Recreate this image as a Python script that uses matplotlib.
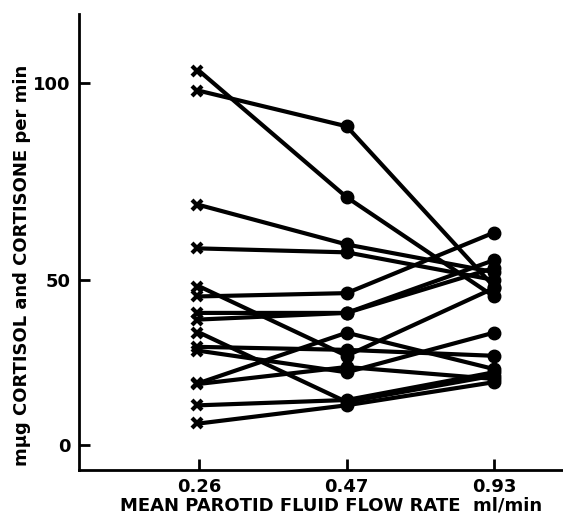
import numpy as np
import matplotlib
matplotlib.use("Agg")
import matplotlib.pyplot as plt

# Data
flow_labels = ["0.26", "0.47", "0.93"]
vals_026 = [103, 98, 69, 58, 48, 45, 40, 38, 34, 29.7, 28.5, 18.8, 18.5, 12, 6.5]
vals_047 = [71, 89, 59, 57, 27, 46, 40, 40, 13, 28.8, 22, 34, 23.6, 13.6, 12]
vals_093 = [45, 48, 52, 50, 47.5, 62, 55, 53, 21, 27, 34, 23, 20, 22, 19]
yticks = [0, 50, 100]

# Piecewise-linear value axis as drawn in the original
def fwd(v):
    v = np.asarray(v, dtype=float)
    return np.where(v <= 50, 3.3 * v, 165 + 3.94 * (v - 50))

def inv(u):
    u = np.asarray(u, dtype=float)
    return np.where(u <= 165, u / 3.3, 50 + (u - 165) / 3.94)

W, H = 563, 521
fig = plt.figure(figsize=(W / 100, H / 100), dpi=100)
ax = fig.add_axes([0.140, 0.098, 0.86, 0.875])
ax.set_yscale("function", functions=(fwd, inv))

xs = np.arange(len(flow_labels))
for a, b, c in zip(vals_026, vals_047, vals_093):
    ax.plot(xs, [a, b, c], color="black", lw=3.0, solid_capstyle="round", zorder=2)
ax.plot(np.full(len(vals_026), xs[0]) - 0.02, vals_026, linestyle="none", marker="x",
        ms=7, mew=3, color="black", zorder=3)
ax.plot(np.full(len(vals_047), xs[1]), vals_047, linestyle="none", marker="o",
        ms=9, color="black", zorder=3)
ax.plot(np.full(len(vals_093), xs[2]), vals_093, linestyle="none", marker="o",
        ms=9, color="black", zorder=3)

ax.set_xlim(-0.82, 2.47)
ax.set_ylim(-7.6, 117.5)
ax.set_xticks(xs)
ax.set_xticklabels(flow_labels)
ax.set_yticks(yticks)
ax.set_yticklabels([str(t) for t in yticks])

for s in ["top", "right"]:
    ax.spines[s].set_visible(False)
for s in ["left", "bottom"]:
    ax.spines[s].set_linewidth(2.0)
ax.tick_params(axis="both", direction="in", length=8, width=2.0,
               labelsize=13, pad=6)
for lab in ax.get_xticklabels() + ax.get_yticklabels():
    lab.set_fontweight("bold")

fig.text(331 / W, 1 - 505 / H, "MEAN PAROTID FLUID FLOW RATE  ml/min",
         fontsize=13, fontweight="bold", ha="center", va="center")
fig.text(22 / W, 1 - 265 / H, "m\u03bcg CORTISOL and CORTISONE per min",
         fontsize=13, fontweight="bold", ha="center", va="center", rotation=90)

fig.savefig("out.png", dpi=100)
